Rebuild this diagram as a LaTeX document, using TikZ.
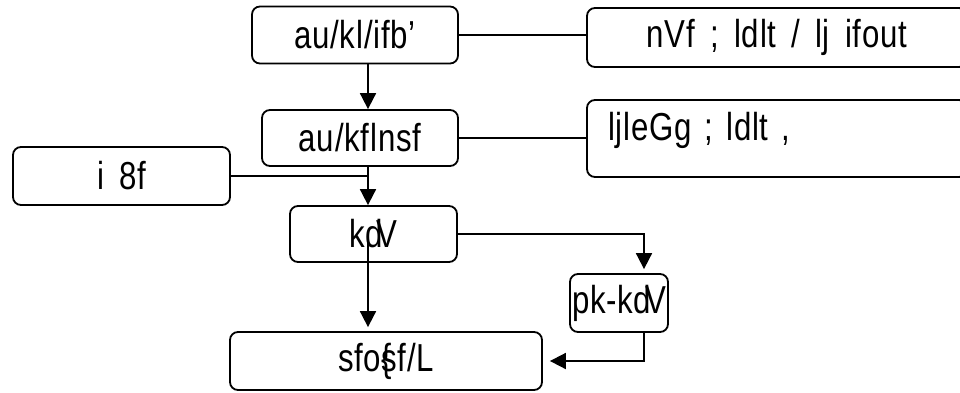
\documentclass[tikz,border=0pt]{standalone}
\usepackage{fontspec}
\setmainfont{Liberation Sans}[FakeStretch=0.8,WordSpace=1.6,LetterSpace=2]
\usetikzlibrary{arrows.meta}

\begin{document}
\begin{tikzpicture}[x=1pt,y=-1pt,
    box/.style={draw, line width=1.8pt, rounded corners=8pt, inner sep=0pt,
      font=\fontsize{39}{44}\selectfont},
    conn/.style={line width=1.8pt},
    arr/.style={line width=1.8pt, -{Triangle[length=16pt,width=16pt]}}]
		\useasboundingbox (0,0) rectangle (960,392);
		\clip (0,0) rectangle (960,392);
		% boxes
		\node[box, minimum width=206, minimum height=57] (board) at (355,35) {au/kl/ifb'};
		\node[box, minimum width=380, minimum height=59] (nvf) at (777,37.5) {nVf ; ldlt / lj ifout};
		\node[box, minimum width=196, minimum height=56] (exec) at (360,138) {au/kflnsf};
		\node[box, minimum width=380, minimum height=77, text width=338, align=left,
		  text height=28pt, text depth=25pt] (ljbox) at (777,138.5) {ljleGg ; ldlt ,};
		\node[box, minimum width=217, minimum height=58] (i8f) at (121.5,176) {i 8f};
		\node[box, minimum width=167, minimum height=56] (kdv) at (373.5,234) {k\makebox[.3em][l]{d}V};
		\node[box, minimum width=98, minimum height=58] (pk) at (619,303) {pk-k\makebox[.3em][l]{d}V};
		\node[box, minimum width=312, minimum height=58] (sfo) at (386,361) {sfo\rlap{\{}sf/L};
		\coordinate (spine) at (368,0);
		\coordinate (branch) at (644,0);
		% connectors
		\draw[conn] (board.east) -- (board.east -| nvf.west);
		\draw[conn] (exec.east) -- (exec.east -| ljbox.west);
		\draw[arr] (board.south -| spine) -- (exec.north -| spine);
		\draw[conn] (exec.south -| spine) -- (i8f.east -| spine);
		\draw[arr] (i8f.east) -| (kdv.north -| spine);
		\draw[arr, shorten >=4pt] (kdv.center -| spine) -- (sfo.north -| spine);
		\draw[arr, shorten >=4pt] (kdv.east) -| (pk.north -| branch);
		\draw[arr, shorten >=7pt] (pk.south -| branch) |- (sfo.east);
\end{tikzpicture}
\end{document}
